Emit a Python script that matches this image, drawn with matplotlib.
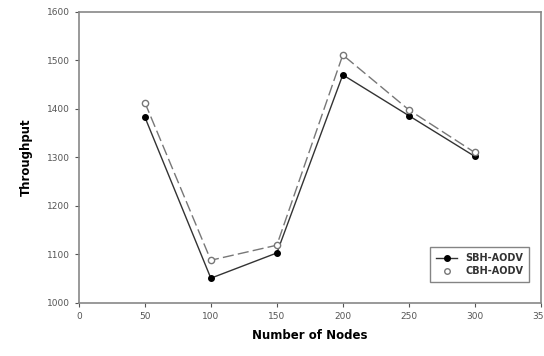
import matplotlib
matplotlib.use("Agg")
import matplotlib.pyplot as plt
from matplotlib.lines import Line2D

nodes = [50, 100, 150, 200, 250, 300]
sbh_aodv = [1383, 1051, 1103, 1470, 1386, 1302]
cbh_aodv = [1413, 1088, 1119, 1511, 1398, 1310]
xticks = [0, 50, 100, 150, 200, 250, 300, 350]
yticks = [1000, 1100, 1200, 1300, 1400, 1500, 1600]

fig = plt.figure(figsize=(5.44, 3.56), dpi=100)
ax = fig.add_axes([0.145, 0.149, 0.849, 0.818])

ax.plot(nodes, sbh_aodv, color="#333333", lw=1.0, marker="o", ms=4,
        mfc="black", mec="black", label="SBH-AODV")
ax.plot(nodes, cbh_aodv, color="#777777", lw=1.0, ls=(0, (8, 3)), marker="o", ms=4.5,
        mfc="white", mec="#777777", label="CBH-AODV")

ax.set_xlim(0, 350)
ax.set_ylim(1000, 1600)
ax.set_xticks(xticks)
ax.set_yticks(yticks)
ax.tick_params(labelsize=6.5, colors="#555555", length=3, width=0.8)
for s in ax.spines.values():
    s.set_color("#888888")
    s.set_linewidth(1.2)

ax.set_xlabel("Number of Nodes", fontsize=8.5, fontweight="bold", labelpad=6)
ax.set_ylabel("Throughput", fontsize=8.5, fontweight="bold", labelpad=10)

handles = [
    Line2D([], [], color="#333333", lw=1.0, marker="o", ms=4, mfc="black", mec="black"),
    Line2D([], [], ls="none", marker="o", ms=4, mfc="white", mec="#777777"),
]
leg = ax.legend(handles, ["SBH-AODV", "CBH-AODV"], loc="lower right",
                bbox_to_anchor=(0.985, 0.055), frameon=True,
                fancybox=False, edgecolor="#666666", handlelength=2.2,
                borderpad=0.6, labelspacing=0.3, prop={"weight": "bold", "size": 7})
for t in leg.get_texts():
    t.set_color("#333333")

fig.savefig("out.png", dpi=100)
